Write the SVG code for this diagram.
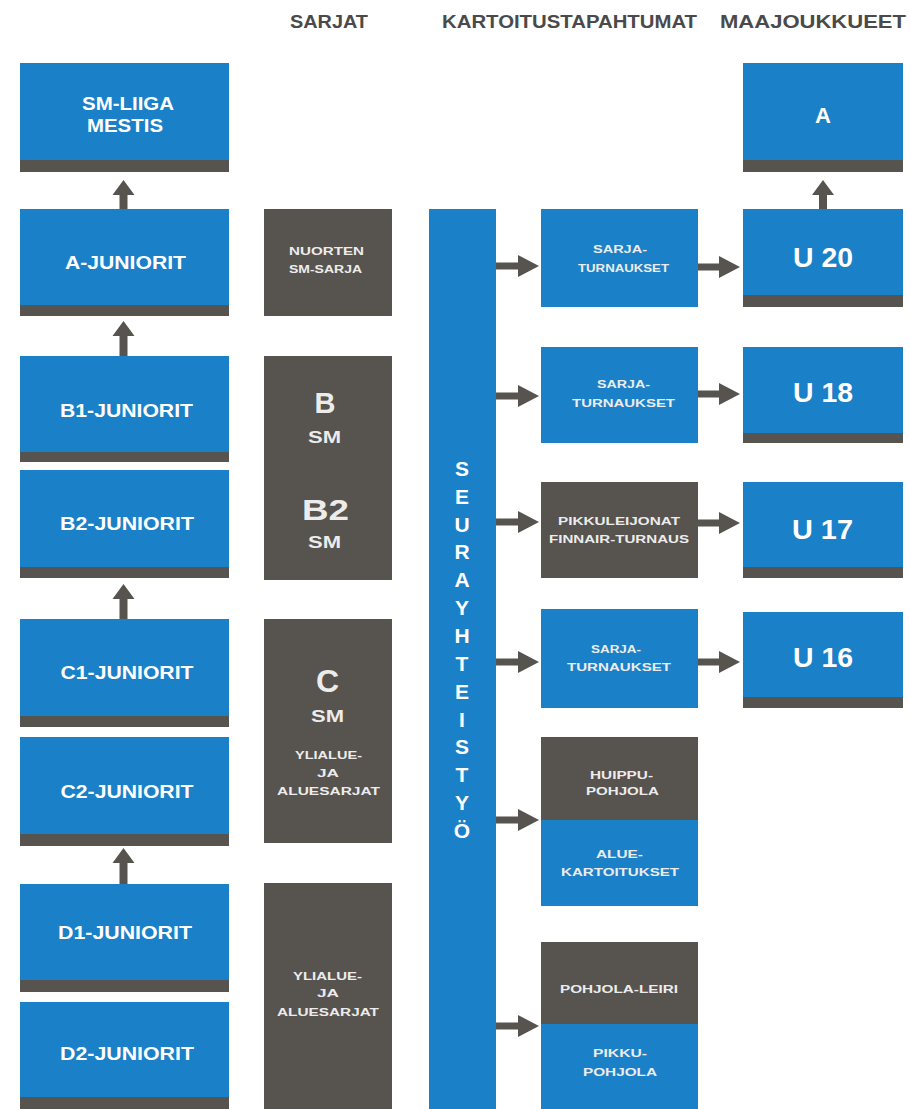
<svg xmlns="http://www.w3.org/2000/svg" width="910" height="1109" viewBox="0 0 910 1109">
<style>
.blue{fill:#1a80c8}
.dark{fill:#57534f}
.t{font-family:"Liberation Sans",Arial,sans-serif;font-weight:bold;fill:#ffffff;text-anchor:middle}
.s{font-family:"Liberation Sans",Arial,sans-serif;font-weight:bold;fill:#ececec;text-anchor:middle;font-size:11px}
.h{font-family:"Liberation Sans",Arial,sans-serif;font-weight:bold;fill:#4a4a4a;text-anchor:middle;font-size:18px}
.sm{font-size:16px}
.big{font-size:18px}
.u{font-size:27px}
.arr{fill:#57534f}
</style>
<rect width="910" height="1109" fill="#ffffff"/>

<g id="headers">
<text class="h" x="329" y="28" textLength="78" lengthAdjust="spacingAndGlyphs">SARJAT</text>
<text class="h" x="569.5" y="28" textLength="255" lengthAdjust="spacingAndGlyphs">KARTOITUSTAPAHTUMAT</text>
<text class="h" x="813" y="28" textLength="186" lengthAdjust="spacingAndGlyphs">MAAJOUKKUEET</text>
</g>

<g id="sm-liiga">
<rect class="blue" x="20" y="63" width="209" height="109"/>
<rect class="dark" x="20" y="160" width="209" height="12"/>
<text class="t big" x="128" y="110" textLength="92" lengthAdjust="spacingAndGlyphs">SM-LIIGA</text>
<text class="t big" x="125" y="132" textLength="76" lengthAdjust="spacingAndGlyphs">MESTIS</text>
</g>
<g id="a-juniorit">
<rect class="blue" x="20" y="209" width="209" height="107"/>
<rect class="dark" x="20" y="305" width="209" height="11"/>
<text class="t big" x="125.5" y="269" textLength="121" lengthAdjust="spacingAndGlyphs">A-JUNIORIT</text>
</g>
<g id="b1-juniorit">
<rect class="blue" x="20" y="356" width="209" height="106"/>
<rect class="dark" x="20" y="452" width="209" height="10"/>
<text class="t big" x="126.5" y="417" textLength="133" lengthAdjust="spacingAndGlyphs">B1-JUNIORIT</text>
</g>
<g id="b2-juniorit">
<rect class="blue" x="20" y="470" width="209" height="108"/>
<rect class="dark" x="20" y="567" width="209" height="11"/>
<text class="t big" x="127" y="530" textLength="134" lengthAdjust="spacingAndGlyphs">B2-JUNIORIT</text>
</g>
<g id="c1-juniorit">
<rect class="blue" x="20" y="619" width="209" height="108"/>
<rect class="dark" x="20" y="716" width="209" height="11"/>
<text class="t big" x="127" y="679" textLength="133" lengthAdjust="spacingAndGlyphs">C1-JUNIORIT</text>
</g>
<g id="c2-juniorit">
<rect class="blue" x="20" y="737" width="209" height="109"/>
<rect class="dark" x="20" y="834" width="209" height="12"/>
<text class="t big" x="127" y="798" textLength="133" lengthAdjust="spacingAndGlyphs">C2-JUNIORIT</text>
</g>
<g id="d1-juniorit">
<rect class="blue" x="20" y="884" width="209" height="108"/>
<rect class="dark" x="20" y="980" width="209" height="12"/>
<text class="t big" x="125" y="939" textLength="134" lengthAdjust="spacingAndGlyphs">D1-JUNIORIT</text>
</g>
<g id="d2-juniorit">
<rect class="blue" x="20" y="1002" width="209" height="107"/>
<rect class="dark" x="20" y="1097" width="209" height="12"/>
<text class="t big" x="127" y="1060" textLength="134" lengthAdjust="spacingAndGlyphs">D2-JUNIORIT</text>
</g>

<g id="sarja-nuorten">
<rect class="dark" x="264" y="209" width="128" height="107"/>
<text class="s" x="326.5" y="255" textLength="75" lengthAdjust="spacingAndGlyphs">NUORTEN</text>
<text class="s" x="325.5" y="273" textLength="73" lengthAdjust="spacingAndGlyphs">SM-SARJA</text>
</g>
<g id="sarja-b">
<rect class="dark" x="264" y="356" width="128" height="224"/>
<text class="s" x="325" y="413" style="font-size:29px">B</text>
<text class="s sm" x="324.5" y="443" textLength="33" lengthAdjust="spacingAndGlyphs">SM</text>
<text class="s" x="325.5" y="520" style="font-size:30px" textLength="47" lengthAdjust="spacingAndGlyphs">B2</text>
<text class="s sm" x="324.5" y="548" textLength="33" lengthAdjust="spacingAndGlyphs">SM</text>
</g>
<g id="sarja-c">
<rect class="dark" x="264" y="619" width="128" height="224"/>
<text class="s" x="327.5" y="692" style="font-size:32px">C</text>
<text class="s sm" x="327.5" y="722" textLength="33" lengthAdjust="spacingAndGlyphs">SM</text>
<text class="s" x="328.5" y="759" textLength="67" lengthAdjust="spacingAndGlyphs">YLIALUE-</text>
<text class="s" x="328" y="777" textLength="22" lengthAdjust="spacingAndGlyphs">JA</text>
<text class="s" x="328.5" y="795" textLength="103" lengthAdjust="spacingAndGlyphs">ALUESARJAT</text>
</g>
<g id="sarja-d">
<rect class="dark" x="264" y="883" width="128" height="226"/>
<text class="s" x="327.5" y="980" textLength="69" lengthAdjust="spacingAndGlyphs">YLIALUE-</text>
<text class="s" x="328" y="997" textLength="22" lengthAdjust="spacingAndGlyphs">JA</text>
<text class="s" x="328" y="1016" textLength="102" lengthAdjust="spacingAndGlyphs">ALUESARJAT</text>
</g>

<g id="seurayhteistyo">
<rect class="blue" x="429" y="209" width="67" height="900"/>
<g class="t" style="font-size:21px">
<text x="462" y="476">S</text>
<text x="462" y="504">E</text>
<text x="462" y="532">U</text>
<text x="462" y="559">R</text>
<text x="462" y="587">A</text>
<text x="462" y="615">Y</text>
<text x="462" y="643">H</text>
<text x="462" y="671">T</text>
<text x="462" y="699">E</text>
<text x="462" y="727">I</text>
<text x="462" y="754">S</text>
<text x="462" y="782">T</text>
<text x="462" y="810">Y</text>
<text x="462" y="838">Ö</text>
</g>
</g>

<g id="kartoitus-1">
<rect class="blue" x="541" y="209" width="157" height="98"/>
<text class="s" x="620" y="253" textLength="54" lengthAdjust="spacingAndGlyphs">SARJA-</text>
<text class="s" x="623.5" y="272" textLength="91" lengthAdjust="spacingAndGlyphs">TURNAUKSET</text>
</g>
<g id="kartoitus-2">
<rect class="blue" x="541" y="347" width="157" height="96"/>
<text class="s" x="623.5" y="388" textLength="53" lengthAdjust="spacingAndGlyphs">SARJA-</text>
<text class="s" x="623.5" y="407" textLength="103" lengthAdjust="spacingAndGlyphs">TURNAUKSET</text>
</g>
<g id="kartoitus-3">
<rect class="dark" x="541" y="482" width="157" height="96"/>
<text class="s" x="619" y="525" textLength="122" lengthAdjust="spacingAndGlyphs">PIKKULEIJONAT</text>
<text class="s" x="619" y="543" textLength="140" lengthAdjust="spacingAndGlyphs">FINNAIR-TURNAUS</text>
</g>
<g id="kartoitus-4">
<rect class="blue" x="541" y="609" width="157" height="99"/>
<text class="s" x="616" y="653" textLength="50" lengthAdjust="spacingAndGlyphs">SARJA-</text>
<text class="s" x="619" y="671" textLength="104" lengthAdjust="spacingAndGlyphs">TURNAUKSET</text>
</g>
<g id="kartoitus-5">
<rect class="dark" x="541" y="737" width="157" height="83"/>
<rect class="blue" x="541" y="820" width="157" height="86"/>
<text class="s" x="621.5" y="779" textLength="63" lengthAdjust="spacingAndGlyphs">HUIPPU-</text>
<text class="s" x="622.5" y="795" textLength="73" lengthAdjust="spacingAndGlyphs">POHJOLA</text>
<text class="s" x="619.5" y="858" textLength="47" lengthAdjust="spacingAndGlyphs">ALUE-</text>
<text class="s" x="620" y="876" textLength="118" lengthAdjust="spacingAndGlyphs">KARTOITUKSET</text>
</g>
<g id="kartoitus-6">
<rect class="dark" x="541" y="942" width="157" height="82"/>
<rect class="blue" x="541" y="1024" width="157" height="85"/>
<text class="s" x="619" y="993" textLength="118" lengthAdjust="spacingAndGlyphs">POHJOLA-LEIRI</text>
<text class="s" x="620" y="1057" textLength="54" lengthAdjust="spacingAndGlyphs">PIKKU-</text>
<text class="s" x="620" y="1076" textLength="74" lengthAdjust="spacingAndGlyphs">POHJOLA</text>
</g>

<g id="maajoukkue-a">
<rect class="blue" x="743" y="63" width="160" height="109"/>
<rect class="dark" x="743" y="160" width="160" height="12"/>
<text class="t" x="823" y="123" style="font-size:22px">A</text>
</g>
<g id="maajoukkue-u20">
<rect class="blue" x="743" y="209" width="160" height="98"/>
<rect class="dark" x="743" y="295" width="160" height="12"/>
<text class="t u" x="823" y="267" textLength="60" lengthAdjust="spacingAndGlyphs">U 20</text>
</g>
<g id="maajoukkue-u18">
<rect class="blue" x="743" y="347" width="160" height="96"/>
<rect class="dark" x="743" y="433" width="160" height="10"/>
<text class="t u" x="823" y="402" textLength="60" lengthAdjust="spacingAndGlyphs">U 18</text>
</g>
<g id="maajoukkue-u17">
<rect class="blue" x="743" y="482" width="160" height="96"/>
<rect class="dark" x="743" y="567" width="160" height="11"/>
<text class="t u" x="822.5" y="539" textLength="61" lengthAdjust="spacingAndGlyphs">U 17</text>
</g>
<g id="maajoukkue-u16">
<rect class="blue" x="743" y="612" width="160" height="96"/>
<rect class="dark" x="743" y="697" width="160" height="11"/>
<text class="t u" x="823" y="667" textLength="60" lengthAdjust="spacingAndGlyphs">U 16</text>
</g>

<g id="connectors" class="arr">
<polygon points="119.5,209 119.5,195 112.5,195 123.5,180 134.5,195 127.5,195 127.5,209"/>
<polygon points="119.5,356 119.5,336 112.5,336 123.5,321 134.5,336 127.5,336 127.5,356"/>
<polygon points="119.5,619 119.5,599 112.5,599 123.5,584 134.5,599 127.5,599 127.5,619"/>
<polygon points="119.5,884 119.5,863 112.5,863 123.5,848 134.5,863 127.5,863 127.5,884"/>
<polygon points="819,209 819,195 812,195 823,180 834,195 827,195 827,209"/>
<polygon points="496,262.5 518,262.5 518,255 539,266 518,277 518,269.5 496,269.5"/>
<polygon points="496,392.5 518,392.5 518,385 539,396 518,407 518,399.5 496,399.5"/>
<polygon points="496,518.5 518,518.5 518,511 539,522 518,533 518,525.5 496,525.5"/>
<polygon points="496,658.5 518,658.5 518,651 539,662 518,673 518,665.5 496,665.5"/>
<polygon points="496,816.5 518,816.5 518,809 539,820 518,831 518,823.5 496,823.5"/>
<polygon points="496,1022.5 518,1022.5 518,1015 539,1026 518,1037 518,1029.5 496,1029.5"/>
<polygon points="698,263.5 719,263.5 719,256 740,267 719,278 719,270.5 698,270.5"/>
<polygon points="698,390.5 719,390.5 719,383 740,394 719,405 719,397.5 698,397.5"/>
<polygon points="698,519.5 719,519.5 719,512 740,523 719,534 719,526.5 698,526.5"/>
<polygon points="698,658.5 719,658.5 719,651 740,662 719,673 719,665.5 698,665.5"/>
</g>
</svg>
